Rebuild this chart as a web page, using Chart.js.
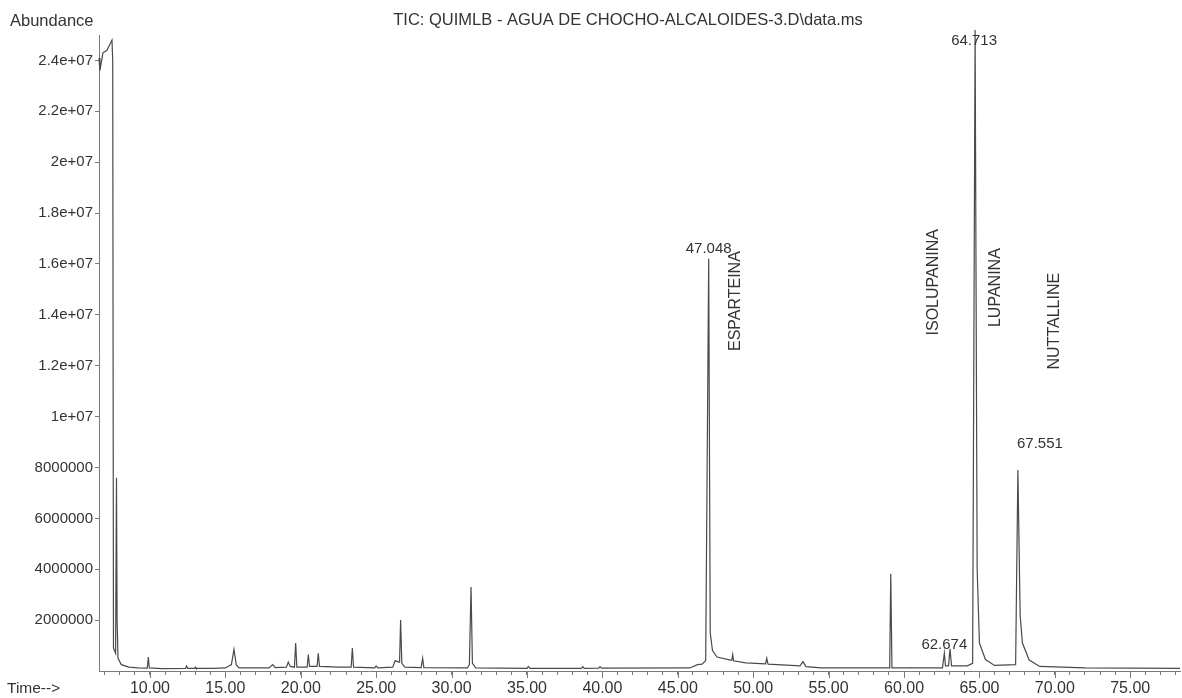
<!DOCTYPE html>
<html>
<head>
<meta charset="utf-8">
<title>TIC chromatogram</title>
<script src="https://cdn.jsdelivr.net/npm/chart.js@4.4.1/dist/chart.umd.min.js"></script>
<style>
  html, body { margin: 0; padding: 0; background: #fff; }
</style>
</head>
<body>
<canvas id="ticChart" width="1182" height="698"></canvas>
<script>
const retentionTimes = [
  6.62, 6.68, 6.88, 7.15, 7.48, 7.53, 7.58, 7.72, 7.78, 7.82, 7.88, 8.10, 8.60, 9.20,
  9.82, 9.89, 9.96, 10.80, 12.35, 12.43, 12.50, 12.95, 13.00, 13.05, 14.20, 15.00,
  15.40, 15.57, 15.72, 15.90, 17.90, 18.14, 18.30, 19.05, 19.17, 19.30, 19.58, 19.66,
  19.74, 20.42, 20.50, 20.58, 21.08, 21.16, 21.24, 22.50, 23.34, 23.42, 23.50, 24.90,
  25.00, 25.10, 26.10, 26.25, 26.55, 26.62, 26.70, 26.90, 27.98, 28.08, 28.16, 31.05,
  31.18, 31.29, 31.38, 31.60, 35.00, 35.09, 35.20, 38.60, 38.70, 38.80, 39.75, 39.84,
  39.95, 45.80, 46.30, 46.60, 46.85, 47.048, 47.15, 47.30, 47.60, 48.50, 48.58, 48.64,
  48.70, 49.50, 50.82, 50.90, 50.98, 52.50, 53.10, 53.30, 53.50, 54.50, 59.05, 59.12,
  59.20, 62.55, 62.674, 62.75, 62.95, 63.05, 63.15, 64.20, 64.55, 64.713, 64.85, 65.00,
  65.40, 66.00, 67.40, 67.551, 67.70, 67.85, 68.30, 69.00, 72.00, 78.30
];
const abundances = [
  24100000, 23600000, 24300000, 24400000, 24800000, 24000000, 900000, 700000, 7600000, 2000000, 500000, 250000, 150000, 120000,
  110000, 550000, 120000, 90000, 100000, 200000, 100000, 100000, 150000, 100000, 100000, 120000,
  250000, 850000, 250000, 120000, 120000, 250000, 130000, 150000, 350000, 180000, 150000, 1100000,
  150000, 150000, 650000, 180000, 180000, 700000, 180000, 150000, 150000, 900000, 150000, 120000,
  200000, 120000, 150000, 400000, 350000, 2000000, 300000, 150000, 130000, 500000, 130000, 120000,
  250000, 3300000, 300000, 120000, 100000, 180000, 100000, 100000, 170000, 100000, 110000, 170000,
  110000, 120000, 250000, 270000, 400000, 16200000, 1500000, 800000, 550000, 430000, 420000, 650000,
  400000, 320000, 280000, 500000, 270000, 220000, 200000, 370000, 170000, 120000, 120000, 3820000,
  120000, 120000, 700000, 200000, 200000, 870000, 200000, 200000, 300000, 25200000, 4000000, 1100000,
  450000, 220000, 250000, 7900000, 2200000, 1100000, 430000, 180000, 120000, 100000
];

// Marcas de los ejes
const xTickValues = [7, 8, 9, 10, 11, 12, 13, 14, 15, 16, 17, 18, 19, 20, 21, 22, 23, 24, 25, 26, 27, 28, 29, 30,
  31, 32, 33, 34, 35, 36, 37, 38, 39, 40, 41, 42, 43, 44, 45, 46, 47, 48, 49, 50, 51, 52, 53, 54,
  55, 56, 57, 58, 59, 60, 61, 62, 63, 64, 65, 66, 67, 68, 69, 70, 71, 72, 73, 74, 75, 76, 77, 78];
const xLabelTimes = [10, 15, 20, 25, 30, 35, 40, 45, 50, 55, 60, 65, 70, 75];
const yTickValues = [2000000, 4000000, 6000000, 8000000, 10000000, 12000000, 14000000, 16000000,
  18000000, 20000000, 22000000, 24000000];
const yTickLabels = ['2000000', '4000000', '6000000', '8000000', '1e+07', '1.2e+07', '1.4e+07', '1.6e+07',
  '1.8e+07', '2e+07', '2.2e+07', '2.4e+07'];

// Picos marcados y compuestos identificados
const peakLabels = ['47.048', '62.674', '64.713', '67.551'];
const compoundNames = ['ESPARTEINA', 'ISOLUPANINA', 'LUPANINA', 'NUTTALLINE'];
const compoundTimes = [48.86, 61.93, 66.04, 70.0];
const compoundLevels = [14540000, 15280000, 15070000, 13750000];

const titleText = 'TIC: QUIMLB - AGUA DE CHOCHO-ALCALOIDES-3.D\\data.ms';
const FONT = '"Liberation Sans", Arial, sans-serif';
const INK = '#333';
const AXIS = '#7a7a7a';

const points = retentionTimes.map((t, i) => ({ x: t, y: abundances[i] }));

// desplazamiento de cada etiqueta de pico respecto del ápice (px)
const peakLabelShift = [
  { dx: 0, dy: -6 },
  { dx: 0, dy: -4 },
  { dx: -1, top: 10 },
  { dx: 22, dy: -22 }
];

const textPlugin = {
  id: 'ticText',
  afterDraw(chart) {
    const { ctx, chartArea } = chart;
    const x = chart.scales.x, y = chart.scales.y;
    ctx.save();
    ctx.fillStyle = INK;
    ctx.textBaseline = 'middle';

    ctx.font = '16.5px ' + FONT;
    ctx.textAlign = 'left';
    ctx.fillText('Abundance', 10, 21);
    ctx.font = '15.5px ' + FONT;
    ctx.fillText('Time-->', 7, 689);
    ctx.font = '16.5px ' + FONT;
    ctx.textAlign = 'center';
    ctx.fillText(titleText, 628, 20);

    // marcas largas en los minutos etiquetados
    ctx.strokeStyle = AXIS;
    ctx.lineWidth = 1;
    xLabelTimes.forEach(t => {
      const px = Math.round(x.getPixelForValue(t)) + 0.5;
      ctx.beginPath();
      ctx.moveTo(px, chartArea.bottom);
      ctx.lineTo(px, chartArea.bottom + 7);
      ctx.stroke();
    });

    // etiquetas de los picos
    ctx.font = '15px ' + FONT;
    ctx.textBaseline = 'alphabetic';
    peakLabels.forEach((lbl, i) => {
      const t = parseFloat(lbl);
      const idx = retentionTimes.indexOf(t);
      const s = peakLabelShift[i];
      const px = x.getPixelForValue(t) + s.dx;
      const py = s.top !== undefined ? chartArea.top + s.top : y.getPixelForValue(abundances[idx]) + s.dy;
      ctx.fillText(lbl, px, py);
    });

    // nombres de compuestos, verticales
    ctx.font = '16px ' + FONT;
    ctx.textBaseline = 'middle';
    compoundNames.forEach((name, i) => {
      ctx.save();
      ctx.translate(x.getPixelForValue(compoundTimes[i]), y.getPixelForValue(compoundLevels[i]));
      ctx.rotate(-Math.PI / 2);
      ctx.fillText(name, 0, 0);
      ctx.restore();
    });
    ctx.restore();
  }
};

new Chart(document.getElementById('ticChart'), {
  type: 'line',
  data: {
    datasets: [{
      label: 'TIC',
      data: points,
      borderColor: '#4a4a4a',
      borderWidth: 1.2,
      pointRadius: 0,
      tension: 0,
      fill: false,
      clip: false
    }]
  },
  options: {
    responsive: false,
    animation: false,
    layout: { padding: { top: 35, right: 2, left: 0, bottom: 0 } },
    plugins: { legend: { display: false }, tooltip: { enabled: false }, title: { display: false } },
    scales: {
      x: {
        type: 'linear',
        min: 6.62,
        max: 78.3,
        afterBuildTicks: scale => { scale.ticks = xTickValues.map(v => ({ value: v })); },
        afterFit: scale => { scale.height = 27; },
        ticks: {
          autoSkip: false,
          maxRotation: 0,
          padding: 4,
          color: INK,
          font: { family: FONT, size: 16 },
          callback: v => xLabelTimes.includes(v) ? v.toFixed(2) : ''
        },
        grid: { drawOnChartArea: false, drawTicks: true, tickLength: 4, color: AXIS },
        border: { color: AXIS, width: 1 }
      },
      y: {
        min: 0,
        max: 25000000,
        afterBuildTicks: scale => { scale.ticks = yTickValues.map(v => ({ value: v })); },
        afterFit: scale => { scale.width = 99; },
        ticks: {
          autoSkip: false,
          padding: 2,
          color: INK,
          font: { family: FONT, size: 15 },
          callback: v => yTickLabels[yTickValues.indexOf(v)]
        },
        grid: { drawOnChartArea: false, drawTicks: true, tickLength: 4, color: AXIS },
        border: { color: AXIS, width: 1 }
      }
    }
  },
  plugins: [textPlugin]
});
</script>
</body>
</html>
